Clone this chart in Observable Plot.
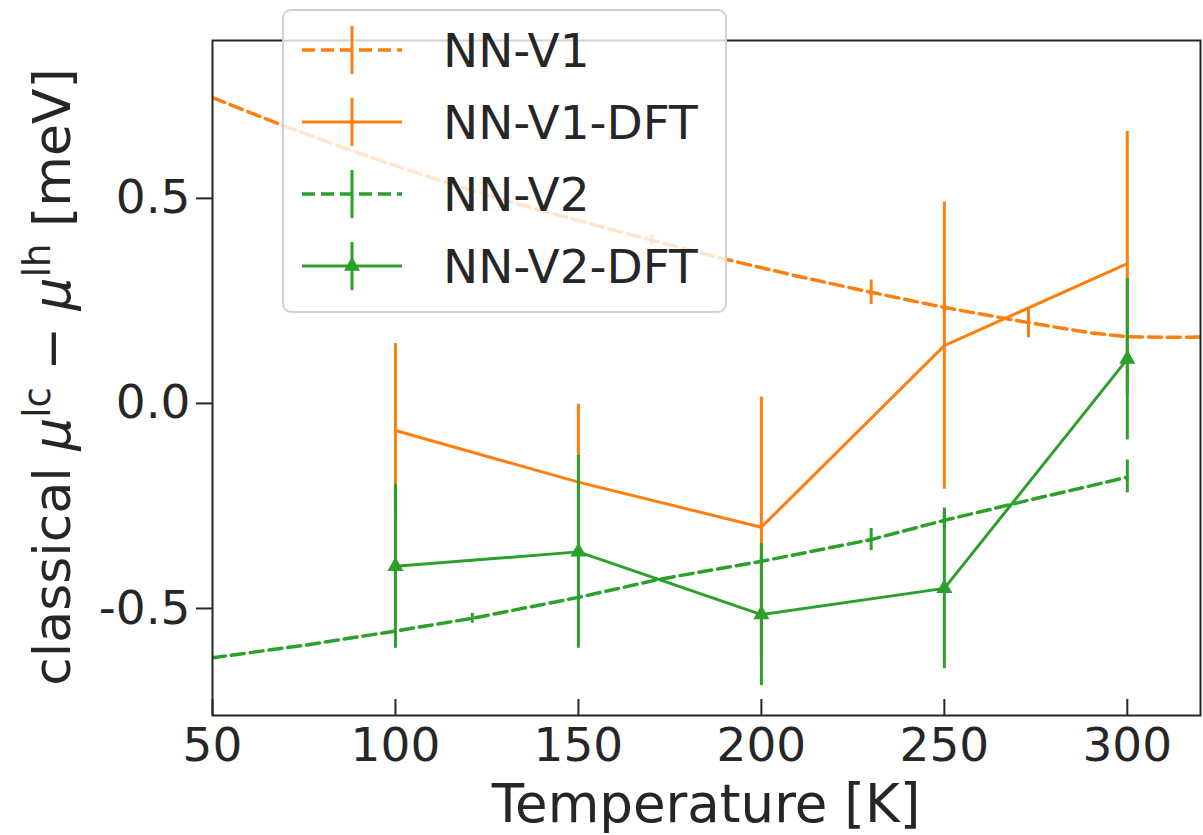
<!DOCTYPE html>
<html><head><meta charset="utf-8">
<script src="https://cdn.jsdelivr.net/npm/d3@7"></script>
<script src="https://cdn.jsdelivr.net/npm/@observablehq/plot@0.6"></script>
<style>body{margin:0;background:#fff}</style>
</head><body><div id="chart"></div>
<script>
// ---- data ----
const series = ["NN-V1", "NN-V1-DFT", "NN-V2", "NN-V2-DFT"];
const seriesColors = ["#ff7f0e", "#ff7f0e", "#2ca02c", "#2ca02c"];

// NN-V1 (dashed orange) curve and its visible error bars
const v1T  = [50, 70, 90, 110, 130, 150, 170, 190, 210, 230, 250, 273, 290, 300, 310, 320];
const v1Mu = [0.746, 0.675, 0.610, 0.550, 0.495, 0.446, 0.398, 0.352, 0.310, 0.271, 0.234, 0.197, 0.172, 0.163, 0.161, 0.162];
const v1ErrT  = [170, 230, 250, 273, 300];
const v1ErrMu = [0.398, 0.271, 0.234, 0.195, 0.163];
const v1Err   = [0.012, 0.030, 0.012, 0.035, 0.010];

// NN-V2 (dashed green) curve and its visible error bars
const v2T  = [50, 75, 100, 121, 150, 172, 200, 230, 250, 275, 300];
const v2Mu = [-0.620, -0.590, -0.555, -0.524, -0.473, -0.429, -0.385, -0.332, -0.285, -0.232, -0.180];
const v2ErrT  = [121, 150, 200, 230, 250, 300];
const v2ErrMu = [-0.524, -0.473, -0.385, -0.332, -0.285, -0.178];
const v2Err   = [0.012, 0.010, 0.010, 0.027, 0.020, 0.040];

// DFT series
const dftT = [100, 150, 200, 250, 300];
const v1dftMu  = [-0.066, -0.192, -0.302, 0.141, 0.341];
const v1dftErr = [0.212, 0.190, 0.317, 0.350, 0.322];
const v2dftMu  = [-0.397, -0.362, -0.515, -0.451, 0.108];
const v2dftErr = [0.200, 0.235, 0.173, 0.196, 0.197];

const xTicks = [50, 100, 150, 200, 250, 300];
const yTicks = [-0.5, 0, 0.5];

// ---- tables ----
const zip = (T, mu, err) => T.map((t, i) => ({T: t, mu: mu[i], err: err ? err[i] : 0}));
const v1Line = zip(v1T, v1Mu), v1Bars = zip(v1ErrT, v1ErrMu, v1Err);
const v2Line = zip(v2T, v2Mu), v2Bars = zip(v2ErrT, v2ErrMu, v2Err);
const v1dft = zip(dftT, v1dftMu, v1dftErr);
const v2dft = zip(dftT, v2dftMu, v2dftErr);

const ORANGE = seriesColors[0], GREEN = seriesColors[2];
const INK = "#262626";
const bars = (data, color) => Plot.ruleX(data, {x: "T", y1: d => d.mu - d.err, y2: d => d.mu + d.err, stroke: color, strokeWidth: 3, clip: true});

const plot = Plot.plot({
  width: 1203, height: 835,
  marginTop: 40, marginLeft: 212, marginRight: 3, marginBottom: 120,
  x: {domain: [50, 320]},
  y: {domain: [-0.761, 0.885]},
  style: {fontFamily: "DejaVu Sans", background: "white", overflow: "visible"},
  marks: [
    Plot.line(v1Line, {x: "T", y: "mu", stroke: ORANGE, strokeWidth: 3.5, strokeDasharray: "13,6", clip: true}),
    bars(v1Bars, ORANGE),
    Plot.line(v1dft, {x: "T", y: "mu", stroke: ORANGE, strokeWidth: 3}),
    bars(v1dft, ORANGE),
    Plot.line(v2Line, {x: "T", y: "mu", stroke: GREEN, strokeWidth: 3.5, strokeDasharray: "13,6", clip: true}),
    bars(v2Bars, GREEN),
    Plot.line(v2dft, {x: "T", y: "mu", stroke: GREEN, strokeWidth: 3}),
    bars(v2dft, GREEN),
    Plot.dot(v2dft, {x: "T", y: "mu", symbol: "triangle", r: 6, fill: GREEN, stroke: "none"}),
    Plot.frame({stroke: INK, strokeWidth: 2}),
    Plot.axisX(xTicks, {tickSize: -16, tickPadding: 28, fontSize: 47, label: null, color: INK, strokeWidth: 2, tickFormat: d => String(d)}),
    Plot.axisY(yTicks, {tickSize: 16, tickPadding: 6, fontSize: 47, label: null, color: INK, strokeWidth: 2, tickFormat: d => d.toFixed(1)})
  ]
});
document.getElementById("chart").appendChild(plot);

// ---- axis titles ----
const svg = d3.select(plot);
svg.append("text").attr("x", 706).attr("y", 822).attr("text-anchor", "middle")
  .attr("font-size", 53).attr("fill", INK).attr("font-family", "DejaVu Sans").text("Temperature [K]");

const yl = svg.append("text").attr("transform", "translate(70,377) rotate(-90)")
  .attr("text-anchor", "middle").attr("font-size", 52).attr("fill", INK).attr("font-family", "DejaVu Sans");
yl.append("tspan").text("classical ");
yl.append("tspan").attr("font-style", "italic").text("μ");
yl.append("tspan").attr("font-size", 37).attr("dy", -20).text("lc");
yl.append("tspan").attr("dy", 20).text(" − ");
yl.append("tspan").attr("font-style", "italic").text("μ");
yl.append("tspan").attr("font-size", 37).attr("dy", -20).text("lh");
yl.append("tspan").attr("dy", 20).text(" [meV]");

// ---- legend ----
const lg = svg.append("g");
lg.append("rect").attr("x", 283).attr("y", 10).attr("width", 443).attr("height", 302).attr("rx", 8)
  .attr("fill", "white").attr("fill-opacity", 0.8).attr("stroke", "#d0d0d0").attr("stroke-width", 2);
const rowY = [50, 122, 194, 266];
const dashed = [true, false, true, false];
series.forEach((name, i) => {
  const y = rowY[i], c = seriesColors[i];
  lg.append("line").attr("x1", 302).attr("x2", 402).attr("y1", y).attr("y2", y)
    .attr("stroke", c).attr("stroke-width", dashed[i] ? 3.5 : 3).attr("stroke-dasharray", dashed[i] ? "13,6" : null);
  lg.append("line").attr("x1", 352).attr("x2", 352).attr("y1", y - 24).attr("y2", y + 24)
    .attr("stroke", c).attr("stroke-width", 3);
  if (i === 3) {
    lg.append("path").attr("d", d3.symbol(d3.symbolTriangle, 6 * 6 * Math.PI)()).attr("transform", `translate(352,${y})`).attr("fill", c);
  }
  lg.append("text").attr("x", 443).attr("y", y + 17).attr("text-anchor", "start").attr("font-size", 47).attr("fill", INK)
    .attr("font-family", "DejaVu Sans").text(name);
});
</script>
</body></html>
